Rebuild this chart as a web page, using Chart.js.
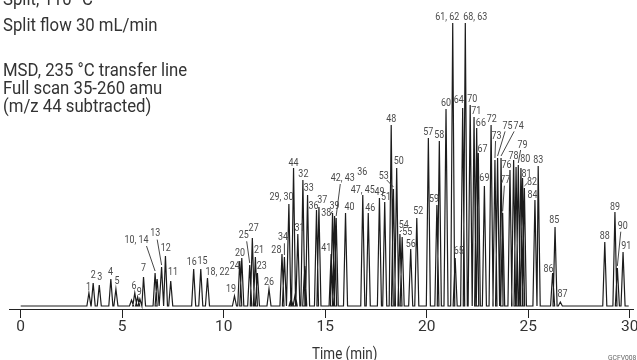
<!DOCTYPE html>
<html>
<head>
<meta charset="utf-8">
<script src="https://cdn.jsdelivr.net/npm/chart.js@4/dist/chart.umd.min.js"></script>
<style>
  html, body { margin: 0; padding: 0; background: #fff; }
  #wrap { width: 637px; height: 360px; position: relative; }
</style>
</head>
<body>
<div id="wrap"><canvas id="c" width="637" height="360"></canvas></div>
<script>
// ---- data ----
const peakTimes = [3.36, 3.57, 3.87, 4.44, 4.69, 5.46, 5.62, 5.76, 5.87, 6.05,
  6.62, 6.72, 6.94, 7.13, 7.39, 8.52, 8.87, 9.2, 10.53, 10.79,
  10.89, 11.28, 11.41, 11.56, 11.66, 12.23, 12.87, 12.99, 13.21, 13.32,
  13.44, 13.52, 13.65, 13.9, 13.99, 14.13, 14.57, 14.69, 15.29, 15.36,
  15.46, 15.54, 16.0, 16.85, 17.12, 17.67, 17.93, 18.25, 18.36, 18.52,
  18.68, 18.79, 19.21, 19.51, 20.08, 20.5, 20.62, 20.95, 21.28, 21.4,
  21.77, 21.9, 22.14, 22.33, 22.46, 22.54, 22.84, 23.17, 23.36, 23.49,
  23.66, 23.74, 24.1, 24.28, 24.4, 24.51, 24.64, 24.72, 24.81, 25.33,
  25.49, 26.2, 26.32, 26.58, 28.77, 29.27, 29.39, 29.67];
const peakHeights = [13, 23, 21, 27, 17, 6, 13, 9, 7, 29,
  33, 27, 39, 50, 25, 37, 37, 28, 10, 45,
  48, 41, 68, 49, 33, 17, 52, 49, 102, 7,
  138, 12, 72, 126, 40, 111, 96, 99, 52, 93,
  90, 88, 93, 111, 93, 108, 104, 181, 117, 138,
  72, 69, 57, 88, 168, 101, 165, 197, 283, 48,
  198, 283, 201, 189, 178, 153, 120, 181, 146, 148,
  148, 93, 136, 146, 139, 141, 138, 128, 118, 106,
  140, 33, 79, 4, 64, 94, 38, 54];
const peakNames = ['1', '2', '3', '4', '5', '', '6', '', '9', '7',
  '10, 14', '', '13', '12', '11', '16', '15', '18, 22', '19', '24',
  '20', '25', '27', '21', '23', '26', '28', '34', '29, 30', '',
  '44', '', '31', '32', '', '33', '36', '37', '41', '38',
  '39', '42, 43', '40', '47, 45', '46', '49', '51', '48', '53', '50',
  '54', '55', '56', '52', '57', '59', '58', '60', '61, 62', '65',
  '64', '68, 63', '70', '71', '66', '67', '69', '72', '73', '75',
  '74', '77', '76', '78', '', '79', '80', '81', '82', '84',
  '83', '86', '85', '87', '88', '89', '90', '91'];
const tickValues = [0, 5, 10, 15, 20, 25, 30];
const headerLines = ['Split, 110 \u00B0C', 'Split flow 30 mL/min', '', 'MSD, 235 \u00B0C transfer line', 'Full scan 35-260 amu', '(m/z 44 subtracted)'];
const axisTitle = 'Time (min)';
const figureCode = 'GCFV008';

// ---- label layout (pixel offsets from the apex) ----
const labelOffsets = {
  '1':[-0.5,-6], '2':[0,-8], '3':[0.5,-7.7], '4':[-0.3,-7], '5':[1,-7.6], '6':[-0.7,-7], '9':[-0.7,-6.3],
  '7':[0,-8.4], '10, 14':[-18.6,-33], '13':[-6.4,-33.4], '12':[0.3,-7.7], '11':[2.3,-8.3], '16':[-2,-7],
  '15':[1.7,-7.6], '18, 22':[10,-5.5], '19':[-3.4,-6.4], '24':[-5,5], '20':[-1.7,-4.7], '25':[-6,-29.7],
  '27':[1.3,-9.3], '21':[3.6,-6.6], '23':[4.3,-6.3], '28':[-5.6,-4], '34':[-1.5,-19.7], '29, 30':[-7.3,-7],
  '44':[0,-5], '31':[1.7,-5.7], '32':[0.5,-6], '33':[1.3,-6.7], '36':[-3,-4], '37':[3.4,-6.7], '41':[-4.8,-5.7],
  '38':[-6.3,0], '39':[0,-10], '42, 43':[6.6,-40], '40':[4,-5.3], '47, 45':[0,-4.5], '46':[2,-4.7],
  '49':[0,-5.6], '51':[1.4,-4.4], '48':[0,-5.7], '53':[-9.7,-13], '50':[2,-6.6], '54':[3.8,-9],
  '55':[5,-4.4], '56':[0,-5], '52':[1.4,-6.3], '57':[0,-5.3], '59':[-2.8,-5.7], '58':[0,-6], '60':[0,-5.7],
  '61, 62':[-5.5,-5.7], '65':[3.6,-7], '64':[-4,-7.3], '68, 63':[10,-5.7], '70':[2,-5.7], '71':[2.3,-5.4],
  '66':[4.2,-5], '67':[4.3,-3.7], '69':[0,-7.7], '72':[0.6,-5.7], '73':[1.6,-24], '75':[10,-31.6],
  '74':[17.6,-31.6], '77':[2.7,-32.3], '76':[-3.4,-5], '78':[0,-4], '79':[4.3,-20], '80':[4.3,-8.3],
  '81':[4,-3.3], '82':[7.7,-5.6], '84':[-2.4,-5], '83':[0,-6], '86':[-4,-4], '85':[-0.7,-6.3],
  '87':[2.3,-7.4], '88':[0,-5.7], '89':[0,-5], '90':[5.4,-41.3], '91':[3.3,-5.7]
};
const leaderStarts = {
  '10, 14':[10,6], '13':[2,6], '25':[3,6], '34':[1.5,6], '42, 43':[-2.5,6], '53':[3,4], '54':[-2,5],
  '73':[-1,5], '75':[-2.5,5], '74':[-4.5,5], '77':[-1,5], '79':[-2,5], '82':[-5,1], '90':[-2,5], '38':[4,2]
};
const extraLabels = [{ text: '36', near: '47, 45', dx: -0.6, dy: -22.7 }];

// ---- build trace vertices from the peak table ----
const halfWidth = 0.1;
const trace = [{ x: 0, y: 0 }];
peakTimes.forEach((t, i) => {
  trace.push({ x: t - halfWidth, y: 0 });
  trace.push({ x: t, y: peakHeights[i] });
  trace.push({ x: t + halfWidth, y: 0 });
});
trace.push({ x: 29.95, y: 0 });

const FONT = 'Roboto, "Liberation Sans", sans-serif';

// draws real text, horizontally condensed to imitate the original condensed face
function condensedText(ctx, text, x, y, sizePx, squeeze, align) {
  ctx.save();
  ctx.translate(x, y);
  ctx.scale(squeeze, 1);
  ctx.font = sizePx + 'px ' + FONT;
  ctx.textAlign = align;
  ctx.fillText(text, 0, 0);
  ctx.restore();
}

const annotate = {
  id: 'annotate',
  afterDatasetsDraw(chart) {
    const ctx = chart.ctx;
    const xs = chart.scales.x, ys = chart.scales.y;
    ctx.save();
    ctx.textBaseline = 'middle';
    const apexOf = {};
    peakNames.forEach((name, i) => {
      if (!name) return;
      const ax = xs.getPixelForValue(peakTimes[i]);
      const ay = ys.getPixelForValue(peakHeights[i]);
      apexOf[name] = [ax, ay];
      const off = labelOffsets[name] || [0, -7];
      const lx = ax + off[0], ly = ay + off[1];
      ctx.fillStyle = '#4a4a4a';
      condensedText(ctx, name, lx, ly, 10.5, 0.85, 'center');
      const ls = leaderStarts[name];
      if (ls) {
        ctx.strokeStyle = '#333';
        ctx.lineWidth = 0.9;
        ctx.beginPath();
        ctx.moveTo(lx + ls[0], ly + ls[1]);
        ctx.lineTo(ax, ay - 2);
        ctx.stroke();
      }
    });
    extraLabels.forEach(e => {
      const a = apexOf[e.near];
      ctx.fillStyle = '#4a4a4a';
      condensedText(ctx, e.text, a[0] + e.dx, a[1] + e.dy, 10.5, 0.85, 'center');
    });
    // header text
    ctx.textBaseline = 'alphabetic';
    ctx.fillStyle = '#333';
    const baselines = [4.5, 30.7, 53, 76, 94.2, 111.8];
    headerLines.forEach((s, i) => { if (s) condensedText(ctx, s, 3, baselines[i], 18, 0.93, 'left'); });
    // axis title
    condensedText(ctx, axisTitle, 344.7, 358.5, 16, 0.84, 'center');
    // figure code
    ctx.fillStyle = '#666';
    condensedText(ctx, figureCode, 608, 360, 7.5, 0.9, 'left');
    ctx.restore();
  }
};

new Chart(document.getElementById('c'), {
  type: 'line',
  data: {
    datasets: [{
      data: trace,
      borderColor: '#1c1c1c',
      borderWidth: 1.2,
      pointRadius: 0,
      tension: 0,
      fill: false
    }]
  },
  options: {
    responsive: false,
    animation: false,
    events: [],
    layout: { padding: { left: 9, right: 4, top: 0, bottom: 0 } },
    plugins: { legend: { display: false }, tooltip: { enabled: false }, title: { display: false } },
    scales: {
      x: {
        type: 'linear',
        min: -0.576,
        max: 30.16,
        afterBuildTicks: s => { s.ticks = tickValues.map(v => ({ value: v })); },
        afterFit: s => { s.height = 51; s.paddingLeft = 0; s.paddingRight = 0; },
        grid: { drawOnChartArea: false, drawTicks: true, tickLength: 9, color: '#222', lineWidth: 1 },
        border: { display: true, color: '#222', width: 1 },
        ticks: {
          autoSkip: false, maxRotation: 0, padding: 0,
          color: '#333',
          font: { family: FONT, size: 15.5 },
          callback: v => String(v)
        }
      },
      y: {
        display: false,
        min: -3,
        max: 306
      }
    }
  },
  plugins: [annotate]
});
</script>
</body>
</html>
